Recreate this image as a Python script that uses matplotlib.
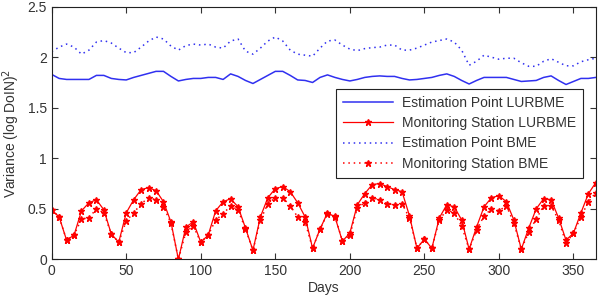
import numpy as np
import matplotlib
matplotlib.use('Agg')
import matplotlib.pyplot as plt

plt.rcParams['font.family'] = ['Liberation Sans', 'DejaVu Sans']

# Days sampled every 5 days
days = np.arange(0, 366, 5)

# Estimation Point LURBME
est_lurbme = [1.83, 1.79, 1.78, 1.78, 1.78, 1.78, 1.82, 1.82, 1.79, 1.78,
              1.775, 1.80, 1.82, 1.84, 1.86, 1.86, 1.81, 1.765, 1.78, 1.79,
              1.79, 1.80, 1.80, 1.78, 1.835, 1.81, 1.77, 1.74, 1.78, 1.82,
              1.86, 1.86, 1.82, 1.775, 1.77, 1.75, 1.80, 1.825, 1.80, 1.78,
              1.765, 1.78, 1.80, 1.81, 1.815, 1.81, 1.81, 1.79, 1.775, 1.78,
              1.79, 1.80, 1.82, 1.835, 1.81, 1.77, 1.735, 1.77, 1.80, 1.80,
              1.80, 1.80, 1.78, 1.76, 1.765, 1.77, 1.80, 1.815, 1.77, 1.73,
              1.76, 1.79, 1.79, 1.80]

# Monitoring Station LURBME
mon_lurbme = [0.49, 0.42, 0.19, 0.24, 0.48, 0.56, 0.59, 0.49, 0.25, 0.17,
              0.46, 0.59, 0.69, 0.71, 0.68, 0.57, 0.37, 0.0, 0.32, 0.37,
              0.17, 0.24, 0.48, 0.57, 0.60, 0.52, 0.31, 0.09, 0.42, 0.61,
              0.70, 0.72, 0.67, 0.56, 0.42, 0.11, 0.30, 0.46, 0.42, 0.18,
              0.26, 0.54, 0.65, 0.74, 0.75, 0.72, 0.69, 0.67, 0.43, 0.11,
              0.20, 0.11, 0.41, 0.54, 0.52, 0.39, 0.10, 0.32, 0.52, 0.61,
              0.63, 0.57, 0.39, 0.10, 0.31, 0.50, 0.60, 0.59, 0.41, 0.19,
              0.26, 0.46, 0.65, 0.76]

# Estimation Point BME
est_bme = [2.055, 2.10, 2.13, 2.10, 2.03, 2.07, 2.15, 2.165, 2.14, 2.09,
           2.045, 2.045, 2.10, 2.16, 2.20, 2.18, 2.11, 2.07, 2.115, 2.13,
           2.12, 2.13, 2.10, 2.09, 2.16, 2.18, 2.06, 2.03, 2.09, 2.16,
           2.20, 2.16, 2.07, 2.03, 2.02, 2.01, 2.09, 2.16, 2.17, 2.12,
           2.08, 2.065, 2.085, 2.095, 2.10, 2.12, 2.12, 2.07, 2.07, 2.09,
           2.12, 2.15, 2.165, 2.18, 2.15, 2.07, 1.92, 1.96, 2.02, 2.00,
           1.98, 1.99, 1.99, 1.945, 1.91, 1.91, 1.96, 1.985, 1.95, 1.915,
           1.915, 1.955, 1.975, 1.99]

# Monitoring Station BME
mon_bme = [0.49, 0.42, 0.19, 0.24, 0.40, 0.41, 0.50, 0.46, 0.25, 0.17,
           0.38, 0.46, 0.55, 0.61, 0.59, 0.52, 0.36, 0.0, 0.27, 0.33,
           0.17, 0.24, 0.39, 0.45, 0.53, 0.49, 0.30, 0.09, 0.39, 0.55,
           0.61, 0.61, 0.53, 0.42, 0.37, 0.11, 0.30, 0.45, 0.43, 0.18,
           0.24, 0.51, 0.56, 0.61, 0.59, 0.55, 0.54, 0.55, 0.41, 0.11,
           0.20, 0.11, 0.39, 0.49, 0.46, 0.33, 0.10, 0.29, 0.43, 0.50,
           0.48, 0.53, 0.36, 0.10, 0.27, 0.40, 0.53, 0.53, 0.39, 0.16,
           0.26, 0.42, 0.57, 0.66]

fig = plt.figure(figsize=(6.08, 3.03), dpi=100)
ax = fig.add_axes([0.085, 0.144, 0.895, 0.834])

blue = '#3030f0'
red = '#ff0000'
dots = (0, (1, 2.5))
ax.plot(days, est_lurbme, '-', color=blue, lw=1.1, label='Estimation Point LURBME')
ax.plot(days, mon_lurbme, '-', color=red, lw=0.9, marker='*', ms=5,
        label='Monitoring Station LURBME')
ax.plot(days, est_bme, linestyle=dots, color=blue, lw=1.1, label='Estimation Point BME')
ax.plot(days, mon_bme, linestyle=dots, color=red, lw=1.1, marker='*', ms=5,
        label='Monitoring Station BME')

ax.set_xlim(0, 365)
ax.set_ylim(0, 2.5)
ax.set_xticks([0, 50, 100, 150, 200, 250, 300, 350])
ax.set_yticks([0, 0.5, 1, 1.5, 2, 2.5])
ax.set_yticklabels(['0', '0.5', '1', '1.5', '2', '2.5'])
ax.tick_params(direction='in', top=True, right=True, labelsize=10,
               length=4, colors='#333333', labelcolor='#333333')
for s in ax.spines.values():
    s.set_color('#222222')
    s.set_linewidth(0.8)

ax.set_xlabel('Days', fontsize=10, color='#333333', labelpad=2)
ax.set_ylabel('Variance (log DoIN)$^2$', fontsize=10, color='#333333', labelpad=4)

leg = ax.legend(loc='upper left', bbox_to_anchor=(0.523, 0.674), borderaxespad=0,
                fontsize=10, fancybox=False, edgecolor='#222222', framealpha=1,
                handlelength=3.6, labelspacing=0.45, borderpad=0.5,
                handletextpad=0.6)
leg.get_frame().set_linewidth(0.8)
for t in leg.get_texts():
    t.set_color('#333333')

fig.savefig('out.png', dpi=100)
